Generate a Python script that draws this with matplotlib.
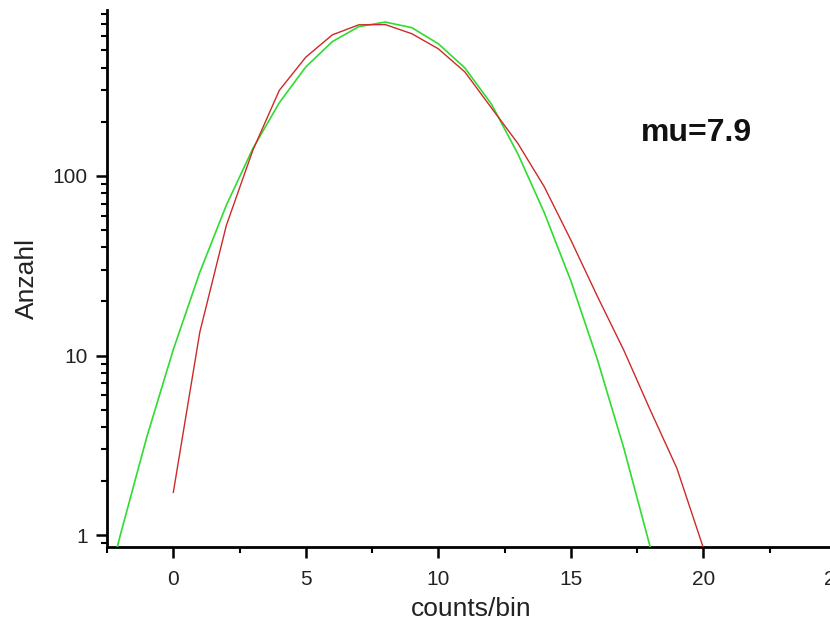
import numpy as np
import matplotlib as mpl
import matplotlib.pyplot as plt
from matplotlib.ticker import FixedLocator, NullFormatter, FuncFormatter

mpl.use('agg')

# measured histogram (red) at integer counts/bin
counts = [0, 1, 2, 3, 4, 5, 6, 7, 8, 9, 10,
          11, 12, 13, 14, 15, 16, 17, 18, 19, 20]
anzahl = [1.73, 13.5, 53, 139, 300, 459, 611, 695, 697, 620, 511,
          380, 240, 152, 87, 44, 21.4, 10.7, 4.96, 2.36, 0.85]

# fitted curve (green)
fit_x = [-2.5, -2, -1, 0, 1, 2, 3, 4, 5, 6, 7, 8, 9, 10,
         11, 12, 13, 14, 15, 16, 17, 18, 18.5]
fit_y = [0.51, 1.00, 3.52, 10.8, 29.1, 68.7, 142, 256, 405, 560, 679, 720, 670, 545,
         400, 252, 133, 62.4, 26.1, 9.53, 3.05, 0.853, 0.43]

x_major = [0, 5, 10, 15, 20, 25]
y_major = [1, 10, 100]
label_text = 'mu=7.9'

plt.rcParams['font.family'] = ['Liberation Sans', 'DejaVu Sans']

fig = plt.figure(figsize=(8.3, 6.27), dpi=100)
# axes run a little past the right edge, so the "25" label is cut like in the original
ax = fig.add_axes([0.129, 0.127, 0.878, 0.857])

ax.plot(fit_x, fit_y, color='#2fdc2f', lw=1.2, zorder=3)
ax.plot(counts, anzahl, color='#cc2a2a', lw=1.0, zorder=4)

ax.set_yscale('log')
ax.set_xlim(-2.5, 25)
ax.set_ylim(0.854, 840)

ax.spines['top'].set_visible(False)
ax.spines['right'].set_visible(False)
for s in ('left', 'bottom'):
    ax.spines[s].set_linewidth(2.0)

ax.xaxis.set_major_locator(FixedLocator(x_major))
ax.xaxis.set_minor_locator(FixedLocator([-2.5, 2.5, 7.5, 12.5, 17.5, 22.5]))
ax.yaxis.set_major_locator(FixedLocator(y_major))
minors = [m * 10.0 ** d for d in range(-1, 3) for m in range(2, 10)]
ax.yaxis.set_minor_locator(FixedLocator(minors))
ax.yaxis.set_minor_formatter(NullFormatter())
ax.yaxis.set_major_formatter(FuncFormatter(lambda v, p: '%g' % v))

ax.tick_params(which='major', direction='out', length=8, width=1.8,
               labelsize=15, labelcolor='#222222', pad=6)
ax.tick_params(which='minor', direction='out', length=4.5, width=1.5)
ax.tick_params(axis='x', which='major', pad=8)

ax.set_xlabel('counts/bin', fontsize=19, color='#222222', labelpad=6)
ax.set_ylabel('Anzahl', fontsize=19, color='#222222', labelpad=10)

ax.text(591 / 731, 0.772, label_text, transform=ax.transAxes, fontsize=23,
        fontweight='bold', ha='center', va='center', color='#111111')

fig.savefig('out.png', dpi=100)
